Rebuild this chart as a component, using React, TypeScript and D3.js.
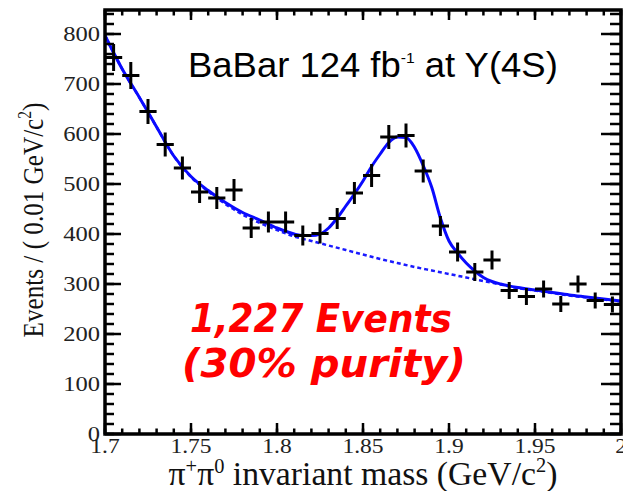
import React, { useRef, useEffect } from "react";
import * as d3 from "d3";

// measured pi+ pi0 mass spectrum, bins of 0.01 GeV/c^2
const binMass = [1.705, 1.715, 1.725, 1.735, 1.745, 1.755, 1.765, 1.775, 1.785, 1.795,
  1.805, 1.815, 1.825, 1.835, 1.845, 1.855, 1.865, 1.875, 1.885, 1.895,
  1.905, 1.915, 1.925, 1.935, 1.945, 1.955, 1.965, 1.975, 1.985, 1.995];
const binEvents = [753, 717, 645, 579, 532, 484, 472, 488, 412, 424,
  424, 397, 401, 431, 482, 517, 594, 597, 526, 416,
  364, 324, 348, 287, 275, 290, 260, 300, 267, 259];
const binErrors = [27, 27, 25, 24, 23, 22, 22, 22, 20, 21,
  21, 20, 20, 21, 22, 23, 24, 24, 23, 20,
  19, 18, 19, 17, 17, 17, 16, 17, 16, 16];

// fit curve (signal + background)
const fitMass = [1.70, 1.71, 1.72, 1.73, 1.74, 1.75, 1.76, 1.77, 1.78, 1.79, 1.80, 1.81,
  1.815, 1.82, 1.825, 1.83, 1.835, 1.84, 1.845, 1.85, 1.855, 1.86, 1.865, 1.87, 1.875,
  1.88, 1.885, 1.89, 1.895, 1.90, 1.905, 1.91, 1.915, 1.92, 1.925, 1.93,
  1.94, 1.95, 1.96, 1.97, 1.98, 1.99, 2.00];
const fitTotal = [797, 730, 673, 614, 556, 515, 487, 463, 443, 428, 412, 400,
  397, 397, 400, 412, 432, 456, 480, 506, 535, 560, 583, 594, 593,
  573, 537, 493, 432, 386, 362, 342, 326, 313, 305, 300,
  293, 288, 283, 278, 274, 270, 266];

// background-only component (dashed)
const bgMass = [1.70, 1.71, 1.72, 1.73, 1.74, 1.75, 1.76, 1.77, 1.78, 1.79, 1.80,
  1.81, 1.82, 1.83, 1.84, 1.85, 1.86, 1.87, 1.88, 1.89, 1.90,
  1.91, 1.92, 1.93, 1.94, 1.95, 1.96, 1.97, 1.98, 1.99, 2.00];
const bgEvents = [797, 730, 673, 614, 556, 514, 485, 460, 439, 422, 408,
  395, 386, 377, 368, 359, 350, 342, 334, 327, 320,
  313, 306, 299, 292, 287, 282, 277, 273, 269, 265];

const xTicks = [1.7, 1.75, 1.8, 1.85, 1.9, 1.95, 2.0];
const xTickLabels = ["1.7", "1.75", "1.8", "1.85", "1.9", "1.95", "2"];
const yTicks = [0, 100, 200, 300, 400, 500, 600, 700, 800];

export default function App() {
  const svgRef = useRef<SVGSVGElement>(null);

  useEffect(() => {
    const svg = d3.select(svgRef.current);
    svg.selectAll("*").remove();

    const left = 105, right = 621, top = 10, bottom = 434;
    const x = d3.scaleLinear().domain([1.7, 2.0]).range([left, right]);
    const y = d3.scaleLinear().domain([0, 848]).range([bottom, top]);

    const serif = "'Liberation Serif', 'Times New Roman', serif";

    // stretch a text group so it spans the target width
    const fit = (g: any, tx: number, ty: number, target: number, extra = "", sy = 1) => {
      const w = (g.node() as SVGGraphicsElement).getBBox().width;
      g.attr("transform", `translate(${tx},${ty}) ${extra} scale(${target / w},${sy})`);
    };

    // clip for curves
    svg.append("defs").append("clipPath").attr("id", "plotclip")
      .append("rect").attr("x", left).attr("y", top)
      .attr("width", right - left).attr("height", bottom - top);

    // background (dashed)
    const bgLine = d3.line<number>()
      .x((d, i) => x(bgMass[i]))
      .y(d => y(d))
      .curve(d3.curveMonotoneX);
    svg.append("path")
      .attr("d", bgLine(bgEvents))
      .attr("clip-path", "url(#plotclip)")
      .attr("fill", "none")
      .attr("stroke", "#1a1aff")
      .attr("stroke-width", 2.5)
      .attr("stroke-dasharray", "4,3");

    // total fit
    const fitLine = d3.line<number>()
      .x((d, i) => x(fitMass[i]))
      .y(d => y(d))
      .curve(d3.curveMonotoneX);
    svg.append("path")
      .attr("d", fitLine(fitTotal))
      .attr("clip-path", "url(#plotclip)")
      .attr("fill", "none")
      .attr("stroke", "#0a0aff")
      .attr("stroke-width", 3);

    // data points with error bars
    const pts = svg.append("g").attr("stroke", "#000").attr("stroke-width", 3);
    binMass.forEach((m, i) => {
      const v = binEvents[i], e = binErrors[i];
      pts.append("line")
        .attr("x1", x(m - 0.005)).attr("x2", x(m + 0.005))
        .attr("y1", y(v)).attr("y2", y(v));
      pts.append("line")
        .attr("x1", x(m)).attr("x2", x(m))
        .attr("y1", y(v - e)).attr("y2", y(v + e));
    });

    // ticks on all four sides
    const tk = svg.append("g").attr("stroke", "#000").attr("stroke-width", 2.5);
    const xMinor = d3.range(0, 31).map(i => 1.7 + i * 0.01);
    xMinor.forEach(v => {
      tk.append("line").attr("x1", x(v)).attr("x2", x(v)).attr("y1", bottom).attr("y2", bottom - 5.5);
      tk.append("line").attr("x1", x(v)).attr("x2", x(v)).attr("y1", top).attr("y2", top + 5.5);
    });
    xTicks.forEach(v => {
      tk.append("line").attr("x1", x(v)).attr("x2", x(v)).attr("y1", bottom).attr("y2", bottom - 11);
      tk.append("line").attr("x1", x(v)).attr("x2", x(v)).attr("y1", top).attr("y2", top + 10);
    });
    const yMinor = d3.range(0, 848, 20);
    yMinor.forEach(v => {
      tk.append("line").attr("x1", left).attr("x2", left + 9).attr("y1", y(v)).attr("y2", y(v));
      tk.append("line").attr("x1", right).attr("x2", right - 11).attr("y1", y(v)).attr("y2", y(v));
    });
    yTicks.forEach(v => {
      tk.append("line").attr("x1", left).attr("x2", left + 16).attr("y1", y(v)).attr("y2", y(v));
      tk.append("line").attr("x1", right).attr("x2", right - 20).attr("y1", y(v)).attr("y2", y(v));
    });

    // frame
    svg.append("rect")
      .attr("x", left).attr("y", top)
      .attr("width", right - left).attr("height", bottom - top)
      .attr("fill", "none").attr("stroke", "#000").attr("stroke-width", 3.5);

    // tick labels
    xTicks.forEach((v, i) => {
      svg.append("text")
        .attr("transform", `translate(${x(v)},453) scale(1.12,1)`)
        .attr("text-anchor", "middle")
        .attr("font-family", serif).attr("font-size", 21).attr("fill", "#222")
        .text(xTickLabels[i]);
    });
    yTicks.forEach(v => {
      svg.append("text")
        .attr("transform", `translate(100,${y(v) + 7}) scale(1.17,1)`)
        .attr("text-anchor", "end")
        .attr("font-family", serif).attr("font-size", 21).attr("fill", "#222")
        .text(v);
    });

    // x axis title
    const xt = svg.append("g");
    const xtText = xt.append("text").attr("text-anchor", "middle")
      .attr("font-family", serif).attr("font-size", 33).attr("fill", "#111");
    xtText.append("tspan").text("\u03c0");
    xtText.append("tspan").attr("font-size", 20).attr("dy", -12).text("+");
    xtText.append("tspan").attr("dy", 12).text("\u03c0");
    xtText.append("tspan").attr("font-size", 20).attr("dy", -12).text("0");
    xtText.append("tspan").attr("dy", 12).text(" invariant mass (GeV/c");
    xtText.append("tspan").attr("font-size", 20).attr("dy", -13).text("2");
    xtText.append("tspan").attr("dy", 13).text(")");
    fit(xt, 363, 485, 389);

    // y axis title
    const yt = svg.append("g");
    const ytText = yt.append("text").attr("text-anchor", "middle")
      .attr("font-family", serif).attr("font-size", 26).attr("fill", "#111");
    ytText.append("tspan").text("Events / ( 0.01 GeV/c");
    ytText.append("tspan").attr("font-size", 16).attr("dy", -10).text("2");
    ytText.append("tspan").attr("dy", 10).text(")");
    fit(yt, 43, 220, 235, "rotate(-90)", 1.17);

    // title
    const tt = svg.append("g");
    const ttText = tt.append("text").attr("text-anchor", "start")
      .attr("font-family", "'Liberation Sans', Arial, sans-serif").attr("font-size", 35).attr("fill", "#000");
    ttText.append("tspan").text("BaBar 124 fb");
    ttText.append("tspan").attr("font-size", 15).attr("dy", -14).text("-1");
    ttText.append("tspan").attr("dy", 14).text(" at Y(4S)");
    fit(tt, 188, 77, 370);

    // red annotation
    const redFont = "'DejaVu Sans', Verdana, sans-serif";
    const r1 = svg.append("g");
    r1.append("text").attr("font-family", redFont).attr("font-size", 39)
      .attr("font-weight", "bold").attr("font-style", "italic").attr("fill", "#ff0000")
      .text("1,227 Events");
    fit(r1, 190, 332, 262);
    const r2 = svg.append("g");
    r2.append("text").attr("font-family", redFont).attr("font-size", 39)
      .attr("font-weight", "bold").attr("font-style", "italic").attr("fill", "#ff0000")
      .text("(30% purity)");
    fit(r2, 182, 377, 284);
  }, []);

  return (
    <svg
      ref={svgRef}
      width={623}
      height={491}
      style={{ position: "absolute", left: 0, top: 0, background: "#fff" }}
    />
  );
}
